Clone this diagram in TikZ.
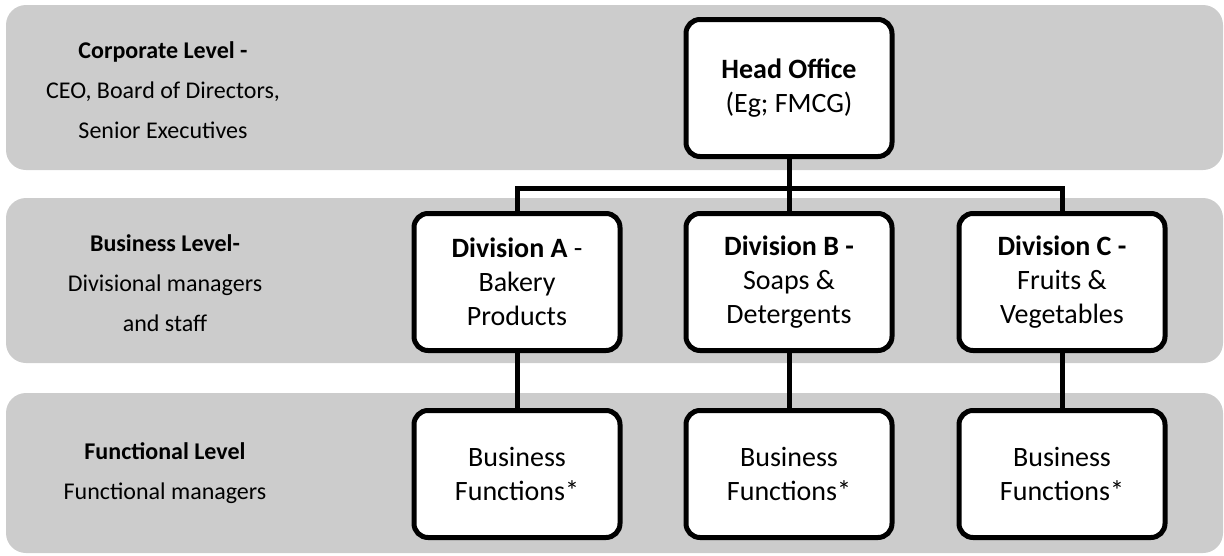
\documentclass[tikz,border=0pt]{standalone}
\usepackage{fontspec}
\setmainfont{Carlito}
\usepackage{tikz}
\usetikzlibrary{positioning}
\definecolor{bandgrey}{RGB}{204,204,204}
\tikzset{band/.style = {fill=bandgrey, rounded corners=20pt}}
\tikzset{unitbox/.style = {draw, fill=white, line width=5pt, rounded corners=14pt, minimum width=206pt, align=center, font=\fontsize{28}{34}\selectfont}}
\tikzset{levellabel/.style = {align=center, font=\fontsize{24}{40}\selectfont}}
\tikzset{link/.style = {line width=5pt}}

\begin{document}
\begin{tikzpicture}[x=1pt,y=-1pt]
        \useasboundingbox (0,0) rectangle (1224,555);
        \fill [band] (6,5) rectangle (1223,170);
        \fill [band] (6,198) rectangle (1223,363);
        \fill [band] (6,393) rectangle (1223,553);
        \node [levellabel] (corp) at (163,90) {\textbf{Corporate Level -}\\CEO, Board of Directors,\\Senior Executives};
        \node [levellabel] (bus) at (165,283) {\textbf{Business Level-}\\Divisional managers\\and staff};
        \node [levellabel] (func) at (165,473) {\textbf{Functional Level}\\Functional managers};
        \node [unitbox, minimum height=137pt] (head) at (789,88) {\textbf{Head Office}\\(Eg; FMCG)};
        \node [unitbox, minimum height=137pt] (divA) at (517,282) {\textbf{Division A} -\\Bakery\\Products};
        \node [unitbox, minimum height=137pt] (divB) at (789,282) {\textbf{Division B -}\\Soaps \&\\Detergents};
        \node [unitbox, minimum height=137pt] (divC) at (1062,282) {\textbf{Division C -}\\Fruits \&\\Vegetables};
        \node [unitbox, minimum height=127pt] (funcA) at (517,474) {Business\\Functions*};
        \node [unitbox, minimum height=127pt] (funcB) at (789,474) {Business\\Functions*};
        \node [unitbox, minimum height=127pt] (funcC) at (1062,474) {Business\\Functions*};
        \coordinate (bar) at (789,188);
        \draw [link] (head) -- (bar);
        \draw [link] (divA.north) |- (bar) -| (divC.north);
        \draw [link] (bar) -- (divB.north);
        \draw [link] (divA) -- (funcA);
        \draw [link] (divB) -- (funcB);
        \draw [link] (divC) -- (funcC);
    \end{tikzpicture}
\end{document}
